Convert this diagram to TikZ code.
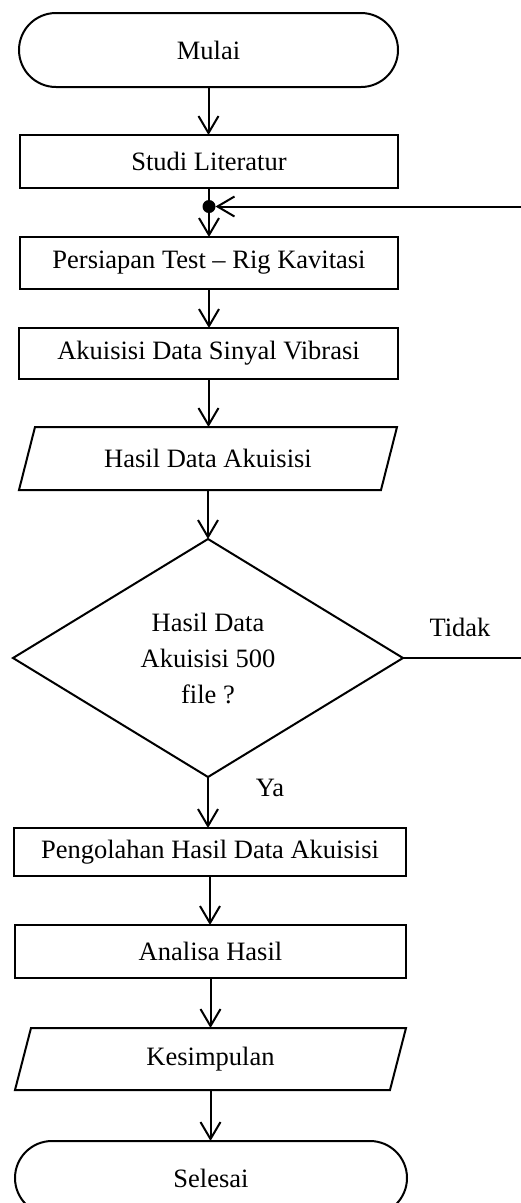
\documentclass[tikz,border=0pt]{standalone}
\usepackage{fontspec}
\setmainfont{Liberation Serif}
\usetikzlibrary{arrows.meta,shapes.geometric}
\begin{document}
\begin{tikzpicture}[x=1pt,y=-1pt,
  every node/.style={font=\fontsize{26.5}{36}\selectfont, inner sep=0pt, outer sep=0pt},
  proc/.style={draw, line width=2pt, rectangle},
  term/.style={draw, line width=2pt, rectangle, rounded corners=37pt, minimum height=74pt},
  iobox/.style={rectangle},
  iodraw/.style={line width=2pt, line join=miter},
  dec/.style={draw, line width=2pt, diamond, align=center, minimum width=390pt, minimum height=238pt},
  arr/.style={line width=2pt, -{Straight Barb[length=17pt,width=20pt,line width=2pt]}},
  lin/.style={line width=2pt},
  lbl/.style={}
]
\useasboundingbox (0,0) rectangle (521,1203);

\node[term, minimum width=379pt] (mulai) at (208.5,50) {Mulai};
\node[proc, minimum width=378pt, minimum height=53pt] (studi) at (209,161.5) {Studi Literatur};
\node[circle, fill=black, minimum size=13pt] (jn) at (209,206.5) {};
\node[proc, minimum width=378pt, minimum height=52pt] (pers) at (209,263) {Persiapan Test -- Rig Kavitasi};
\node[proc, minimum width=379pt, minimum height=51pt] (akui) at (208.5,353.5) {Akuisisi Data Sinyal Vibrasi};
\node[iobox, minimum width=378pt, minimum height=63pt] (hasil) at (208,458.5) {Hasil Data Akuisisi};
\draw[iodraw] ([xshift=16pt]hasil.north west) -- (hasil.north east) -- ([xshift=-16pt]hasil.south east) -- (hasil.south west) -- cycle;
\node[dec] (dia) at (208,658) {Hasil Data\\Akuisisi 500\\file ?};
\node[lbl] (tidak) at (460,627) {Tidak};
\node[lbl] (ya) at (270,788) {Ya};
\node[proc, minimum width=392pt, minimum height=48pt] (peng) at (210,852) {Pengolahan Hasil Data Akuisisi};
\node[proc, minimum width=391pt, minimum height=53pt] (anal) at (210.5,951.5) {Analisa Hasil};
\node[iobox, minimum width=391pt, minimum height=62pt] (kes) at (210.5,1059) {Kesimpulan};
\draw[iodraw] ([xshift=16pt]kes.north west) -- (kes.north east) -- ([xshift=-16pt]kes.south east) -- (kes.south west) -- cycle;
\node[term, minimum width=392pt] (sel) at (211,1178) {Selesai};

\coordinate (rx) at (524,0);
\coordinate (r1) at (dia.east -| rx);
\coordinate (r2) at (r1 |- jn);

\draw[arr] (mulai.south) -- (mulai.south |- studi.north);
\draw[arr] (studi.south) -- (studi.south |- pers.north);
\draw[arr] (pers.south) -- (pers.south |- akui.north);
\draw[arr] (akui.south) -- (akui.south |- hasil.north);
\draw[arr] (hasil.south) -- (hasil.south |- dia.north);
\draw[arr] (dia.south) -- (dia.south |- peng.north);
\draw[arr] (peng.south) -- (peng.south |- anal.north);
\draw[arr] (anal.south) -- (anal.south |- kes.north);
\draw[arr] (kes.south) -- (kes.south |- sel.north);
\draw[arr] (dia.east) -- (r1) -- (r2) -- (jn);
\end{tikzpicture}
\end{document}
